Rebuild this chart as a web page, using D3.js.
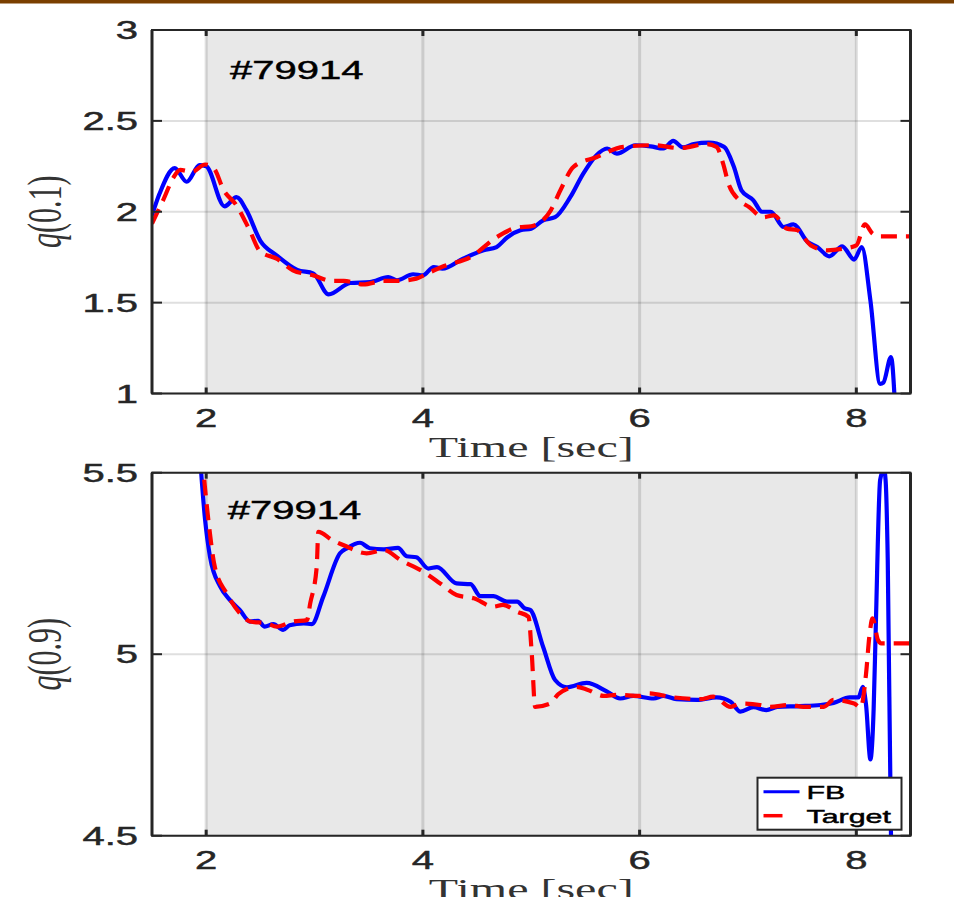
<!DOCTYPE html>
<html>
<head>
<meta charset="utf-8">
<script src="https://cdn.jsdelivr.net/npm/d3@7"></script>
<style>
  body { margin: 0; background: #fff; }
  svg { display: block; }
</style>
</head>
<body>
<div id="container"></div>
<script>
//shot label and axis ticks
var shotLabel = "#79914";
var timeTicks = [2, 4, 6, 8];
var q01Ticks = [1, 1.5, 2, 2.5, 3];
var q09Ticks = [4.5, 5, 5.5];
var timeDomain = [1.5, 8.5];
var shadeRange = [2, 8];

//q(0.1) feedback (FB) trace
var q01FBTime = [1.5, 1.57, 1.71, 1.82, 1.94, 2.0, 2.17, 2.28, 2.37, 2.5,
  2.65, 2.84, 2.99, 3.13, 3.33, 3.51, 3.68, 3.76, 3.91, 4.0,
  4.1, 4.18, 4.37, 4.56, 4.68, 4.78, 4.9, 5.0, 5.11, 5.22,
  5.36, 5.48, 5.6, 5.7, 5.79, 5.96, 6.1, 6.22, 6.31, 6.4,
  6.5, 6.64, 6.78, 6.87, 6.94, 7.05, 7.13, 7.21, 7.33, 7.42,
  7.55, 7.64, 7.75, 7.87, 7.98, 8.05, 8.13, 8.22, 8.25, 8.32, 8.36];
var q01FB = [1.98, 2.10, 2.24, 2.165, 2.256, 2.25, 2.03, 2.08, 2.01, 1.84,
  1.76, 1.68, 1.66, 1.545, 1.608, 1.613, 1.64, 1.623, 1.656, 1.65,
  1.696, 1.687, 1.742, 1.788, 1.806, 1.86, 1.898, 1.907, 1.953, 1.97,
  2.08, 2.21, 2.31, 2.348, 2.32, 2.366, 2.36, 2.348, 2.39, 2.354,
  2.372, 2.38, 2.357, 2.247, 2.118, 2.063, 2.0, 2.0, 1.916, 1.93,
  1.834, 1.806, 1.755, 1.81, 1.737, 1.806, 1.512, 1.053, 1.06, 1.2, 0.9];

//q(0.1) target trace
var q01TargetTime = [1.5, 1.6, 1.7, 1.76, 1.87, 1.99, 2.07, 2.16, 2.28, 2.4,
  2.5, 2.65, 2.8, 2.99, 3.15, 3.27, 3.45, 3.64, 3.77, 3.94,
  4.04, 4.19, 4.44, 4.68, 4.87, 5.0, 5.18, 5.27, 5.39, 5.6,
  5.85, 6.13, 6.37, 6.62, 6.71, 6.77, 6.82, 6.92, 7.01, 7.14,
  7.24, 7.36, 7.45, 7.58, 7.73, 7.88, 8.0, 8.08, 8.15, 8.2, 8.5];
var q01Target = [1.935, 2.06, 2.19, 2.23, 2.22, 2.26, 2.24, 2.12, 2.035, 1.9,
  1.78, 1.742, 1.678, 1.65, 1.62, 1.62, 1.6, 1.62, 1.62, 1.632,
  1.66, 1.7, 1.75, 1.86, 1.913, 1.92, 2.008, 2.12, 2.247, 2.3,
  2.357, 2.366, 2.35, 2.372, 2.357, 2.266, 2.155, 2.063, 2.026, 1.97,
  1.98, 1.907, 1.9, 1.815, 1.788, 1.797, 1.815, 1.93, 1.88, 1.865, 1.865];

//q(0.9) feedback (FB) trace
var q09FBTime = [1.93, 1.99, 2.035, 2.13, 2.22, 2.31, 2.405, 2.48, 2.54, 2.62,
  2.71, 2.77, 2.9, 2.975, 3.08, 3.235, 3.3, 3.42, 3.51, 3.64,
  3.77, 3.85, 3.94, 4.05, 4.13, 4.31, 4.44, 4.53, 4.65, 4.775,
  4.87, 4.94, 4.99, 5.11, 5.22, 5.33, 5.51, 5.7, 5.82, 5.94,
  6.13, 6.22, 6.34, 6.53, 6.71, 6.84, 6.93, 7.05, 7.17, 7.27,
  7.48, 7.67, 7.79, 7.94, 8.02, 8.06, 8.09, 8.13, 8.16, 8.18,
  8.22, 8.255, 8.27, 8.29, 8.32, 8.34];
var q09FB = [5.6, 5.37, 5.269, 5.186, 5.149, 5.122, 5.09, 5.092, 5.076, 5.083,
  5.067, 5.08, 5.085, 5.083, 5.158, 5.278, 5.292, 5.307, 5.292, 5.289,
  5.293, 5.27, 5.267, 5.236, 5.24, 5.195, 5.193, 5.16, 5.16, 5.145,
  5.145, 5.126, 5.122, 5.02, 4.929, 4.909, 4.921, 4.897, 4.878, 4.885,
  4.878, 4.885, 4.876, 4.874, 4.881, 4.869, 4.842, 4.854, 4.846, 4.855,
  4.857, 4.86, 4.866, 4.881, 4.881, 4.91, 4.86, 4.71, 4.85, 5.08,
  5.48, 5.51, 5.48, 5.26, 4.5, 4.3];

//q(0.9) target trace
var q09TargetTime = [1.96, 2.02, 2.08, 2.19, 2.31, 2.405, 2.56, 2.65, 2.8, 2.93,
  2.96, 3.02, 3.035, 3.16, 3.27, 3.48, 3.64, 3.79, 4.005, 4.16,
  4.31, 4.47, 4.65, 4.74, 4.87, 4.975, 5.005, 5.036, 5.175, 5.25,
  5.42, 5.51, 5.67, 5.79, 6.0, 6.08, 6.31, 6.56, 6.68, 6.84,
  6.93, 7.11, 7.2, 7.39, 7.51, 7.7, 7.79, 7.98, 8.04, 8.09,
  8.12, 8.15, 8.2, 8.23, 8.5];
var q09Target = [5.55, 5.37, 5.24, 5.167, 5.113, 5.09, 5.085, 5.076, 5.09, 5.094,
  5.14, 5.24, 5.337, 5.315, 5.3, 5.278, 5.287, 5.26, 5.227, 5.195,
  5.163, 5.154, 5.131, 5.136, 5.117, 5.103, 5.0, 4.855, 4.864, 4.89,
  4.91, 4.903, 4.885, 4.888, 4.885, 4.892, 4.881, 4.876, 4.883, 4.855,
  4.864, 4.86, 4.855, 4.86, 4.855, 4.855, 4.874, 4.864, 4.853, 4.947,
  5.048, 5.099, 5.039, 5.03, 5.03];

//page size and axes boxes
var W = 954, H = 897;
var axLeft = 152, axRight = 910.5;
var SX = 1.6; // the figure is stretched sideways, so the text is too
var ink = "#262626";
var sans = "Liberation Sans, Arial, sans-serif";
var serif = "Liberation Serif, serif";

var svg = d3.select("#container")
  .append("svg")
  .attr("width", W)
  .attr("height", H);

//brown band at the very top
svg.append("rect")
  .attr("x", 0).attr("y", 0)
  .attr("width", W).attr("height", 3.5)
  .attr("fill", "#7a3f00");

//stretched text helper (sans text gets a thin outline to look as heavy as the original)
function addText(parent, x, y, str, size, family, anchor, fill) {
  var g = parent.append("g")
    .attr("transform", "translate(" + x + "," + y + ") scale(" + SX + ",1)");
  var t = g.append("text")
    .attr("font-family", family)
    .attr("font-size", size)
    .attr("text-anchor", anchor)
    .attr("fill", fill)
    .text(str);
  if (family === sans) {
    t.attr("stroke", fill).attr("stroke-width", 0.45);
  }
  return t;
}

//*** draw one panel ***//
function drawPanel(id, top, bottom, yDomain, yTicks, yLabel, fbT, fbV, tgT, tgV, labelPos, withLegend) {
  var x = d3.scaleLinear().domain(timeDomain).range([axLeft, axRight]);
  var y = d3.scaleLinear().domain(yDomain).range([bottom, top]);

  var g = svg.append("g");

  //shaded control window
  g.append("rect")
    .attr("x", x(shadeRange[0]))
    .attr("y", top)
    .attr("width", x(shadeRange[1]) - x(shadeRange[0]))
    .attr("height", bottom - top)
    .attr("fill", "#e8e8e8");

  //grid
  g.append("g").selectAll("line")
    .data(timeTicks)
    .enter()
    .append("line")
    .attr("x1", function(d) { return x(d); })
    .attr("x2", function(d) { return x(d); })
    .attr("y1", top).attr("y2", bottom)
    .attr("stroke", ink).attr("stroke-opacity", 0.15)
    .attr("stroke-width", 3);

  g.append("g").selectAll("line")
    .data(yTicks)
    .enter()
    .append("line")
    .attr("x1", axLeft).attr("x2", axRight)
    .attr("y1", function(d) { return y(d); })
    .attr("y2", function(d) { return y(d); })
    .attr("stroke", ink).attr("stroke-opacity", 0.15)
    .attr("stroke-width", 2);

  //clip lines to the axes
  g.append("clipPath")
    .attr("id", "clip" + id)
    .append("rect")
    .attr("x", axLeft).attr("y", top)
    .attr("width", axRight - axLeft).attr("height", bottom - top);

  var line = d3.line()
    .x(function(d) { return x(d[0]); })
    .y(function(d) { return y(d[1]); })
    .curve(d3.curveMonotoneX);

  var lines = g.append("g").attr("clip-path", "url(#clip" + id + ")");

  lines.append("path")
    .datum(d3.zip(fbT, fbV))
    .attr("d", line)
    .attr("fill", "none")
    .attr("stroke", "#0000ff")
    .attr("stroke-width", 4.2)
    .attr("stroke-linejoin", "round");

  lines.append("path")
    .datum(d3.zip(tgT, tgV))
    .attr("d", line)
    .attr("fill", "none")
    .attr("stroke", "#ff0000")
    .attr("stroke-width", 4.2)
    .attr("stroke-dasharray", "16,9");

  //axes box
  g.append("line").attr("x1", axLeft - 1).attr("x2", axRight + 1).attr("y1", top).attr("y2", top)
    .attr("stroke", ink).attr("stroke-width", 2);
  g.append("line").attr("x1", axLeft - 1).attr("x2", axRight + 1).attr("y1", bottom).attr("y2", bottom)
    .attr("stroke", ink).attr("stroke-width", 2);
  g.append("line").attr("x1", axLeft).attr("x2", axLeft).attr("y1", top).attr("y2", bottom)
    .attr("stroke", ink).attr("stroke-width", 3);
  g.append("line").attr("x1", axRight).attr("x2", axRight).attr("y1", top).attr("y2", bottom)
    .attr("stroke", ink).attr("stroke-width", 3);

  //inward ticks, both sides
  timeTicks.forEach(function(t) {
    g.append("line").attr("x1", x(t)).attr("x2", x(t)).attr("y1", bottom).attr("y2", bottom - 6)
      .attr("stroke", ink).attr("stroke-width", 3);
    g.append("line").attr("x1", x(t)).attr("x2", x(t)).attr("y1", top).attr("y2", top + 6)
      .attr("stroke", ink).attr("stroke-width", 3);
    addText(g, x(t), bottom + 33, String(t), 25, sans, "middle", ink);
  });

  yTicks.forEach(function(v) {
    g.append("line").attr("x1", axLeft).attr("x2", axLeft + 10).attr("y1", y(v)).attr("y2", y(v))
      .attr("stroke", ink).attr("stroke-width", 2);
    g.append("line").attr("x1", axRight).attr("x2", axRight - 10).attr("y1", y(v)).attr("y2", y(v))
      .attr("stroke", ink).attr("stroke-width", 2);
    addText(g, axLeft - 14, y(v) + 9, String(v), 25, sans, "end", ink);
  });

  //x label
  addText(g, (axLeft + axRight) / 2, bottom + 63, "Time [sec]", 30, serif, "middle", "#333");

  //y label, LaTeX style q(0.x)
  var yl = g.append("g")
    .attr("transform", "translate(61," + ((top + bottom) / 2) + ") scale(" + SX + ",1) rotate(-90)")
    .append("text")
    .attr("font-family", serif)
    .attr("font-size", 30)
    .attr("text-anchor", "middle")
    .attr("fill", "#333");
  yl.append("tspan").attr("font-style", "italic").text("q");
  yl.append("tspan").text(yLabel);

  //shot number
  addText(g, x(labelPos[0]), y(labelPos[1]), shotLabel, 25, sans, "start", "#000");

  //legend
  if (withLegend) {
    var lx = axRight - 153, ly = bottom - 58;
    var leg = g.append("g");
    leg.append("rect")
      .attr("x", lx).attr("y", ly)
      .attr("width", 144).attr("height", 52)
      .attr("fill", "#fff")
      .attr("stroke", ink).attr("stroke-width", 2);
    leg.append("line")
      .attr("x1", lx + 6).attr("x2", lx + 42)
      .attr("y1", ly + 14).attr("y2", ly + 14)
      .attr("stroke", "#0000ff").attr("stroke-width", 3);
    leg.append("line")
      .attr("x1", lx + 6).attr("x2", lx + 42)
      .attr("y1", ly + 38).attr("y2", ly + 38)
      .attr("stroke", "#ff0000").attr("stroke-width", 3.5)
      .attr("stroke-dasharray", "19,30");
    addText(leg, lx + 49, ly + 21, "FB", 19, sans, "start", "#000");
    addText(leg, lx + 49, ly + 45, "Target", 19, sans, "start", "#000");
  }
}

drawPanel("top", 30, 393.5, [1, 3], q01Ticks, "(0.1)",
  q01FBTime, q01FB, q01TargetTime, q01Target, [2.22, 2.73], false);
drawPanel("bottom", 472.7, 835.7, [4.5, 5.5], q09Ticks, "(0.9)",
  q09FBTime, q09FB, q09TargetTime, q09Target, [2.2, 5.372], true);
</script>
</body>
</html>
